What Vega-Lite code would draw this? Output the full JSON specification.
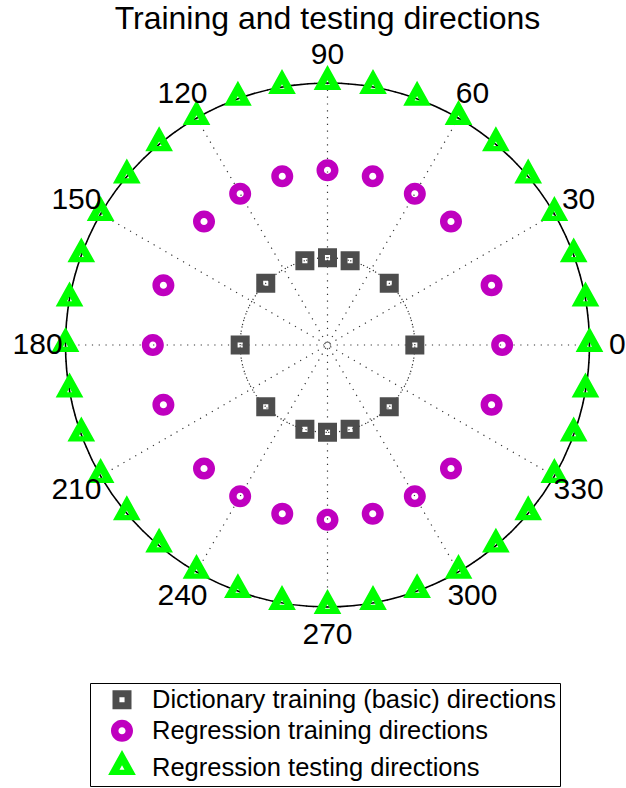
{
  "$schema": "https://vega.github.io/schema/vega-lite/v6.json",
  "width": 597,
  "height": 570,
  "autosize": {"type": "none"},
  "padding": {"left": 29, "top": 60, "right": 0, "bottom": 158},
  "background": "white",
  "title": {
    "text": "Training and testing directions",
    "font": "Liberation Sans",
    "fontSize": 32,
    "fontWeight": "normal",
    "color": "black",
    "anchor": "middle",
    "frame": "group",
    "offset": 4
  },
  "config": {
    "view": {"stroke": null},
    "font": "Liberation Sans"
  },
  "datasets": {
    "rings": [{"r": 1}, {"r": 2}],
    "outer": [{"r": 3}],
    "spokes": [
      {"angle": 0, "x": 3, "y": 0, "x2": -3, "y2": 0},
      {"angle": 30, "x": 2.598, "y": 1.5, "x2": -2.598, "y2": -1.5},
      {"angle": 60, "x": 1.5, "y": 2.598, "x2": -1.5, "y2": -2.598},
      {"angle": 90, "x": 0, "y": 3, "x2": 0, "y2": -3},
      {"angle": 120, "x": -1.5, "y": 2.598, "x2": 1.5, "y2": -2.598},
      {"angle": 150, "x": -2.598, "y": 1.5, "x2": 2.598, "y2": -1.5}
    ],
    "labels": [
      {"label": "0", "x": 3.32, "y": 0},
      {"label": "30", "x": 2.875, "y": 1.66},
      {"label": "60", "x": 1.66, "y": 2.875},
      {"label": "90", "x": 0, "y": 3.32},
      {"label": "120", "x": -1.66, "y": 2.875},
      {"label": "150", "x": -2.875, "y": 1.66},
      {"label": "180", "x": -3.32, "y": 0},
      {"label": "210", "x": -2.875, "y": -1.66},
      {"label": "240", "x": -1.66, "y": -2.875},
      {"label": "270", "x": 0, "y": -3.32},
      {"label": "300", "x": 1.66, "y": -2.875},
      {"label": "330", "x": 2.875, "y": -1.66}
    ],
    "directions": [
      {"set": "Dictionary training (basic) directions", "angle": 0, "x": 1, "y": 0},
      {"set": "Dictionary training (basic) directions", "angle": 45, "x": 0.707, "y": 0.707},
      {"set": "Dictionary training (basic) directions", "angle": 75, "x": 0.259, "y": 0.966},
      {"set": "Dictionary training (basic) directions", "angle": 90, "x": 0, "y": 1},
      {"set": "Dictionary training (basic) directions", "angle": 105, "x": -0.259, "y": 0.966},
      {"set": "Dictionary training (basic) directions", "angle": 135, "x": -0.707, "y": 0.707},
      {"set": "Dictionary training (basic) directions", "angle": 180, "x": -1, "y": 0},
      {"set": "Dictionary training (basic) directions", "angle": 225, "x": -0.707, "y": -0.707},
      {"set": "Dictionary training (basic) directions", "angle": 255, "x": -0.259, "y": -0.966},
      {"set": "Dictionary training (basic) directions", "angle": 270, "x": 0, "y": -1},
      {"set": "Dictionary training (basic) directions", "angle": 285, "x": 0.259, "y": -0.966},
      {"set": "Dictionary training (basic) directions", "angle": 315, "x": 0.707, "y": -0.707},
      {"set": "Regression training directions", "angle": 0, "x": 2, "y": 0},
      {"set": "Regression training directions", "angle": 20, "x": 1.879, "y": 0.684},
      {"set": "Regression training directions", "angle": 45, "x": 1.414, "y": 1.414},
      {"set": "Regression training directions", "angle": 60, "x": 1, "y": 1.732},
      {"set": "Regression training directions", "angle": 75, "x": 0.518, "y": 1.932},
      {"set": "Regression training directions", "angle": 90, "x": 0, "y": 2},
      {"set": "Regression training directions", "angle": 105, "x": -0.518, "y": 1.932},
      {"set": "Regression training directions", "angle": 120, "x": -1, "y": 1.732},
      {"set": "Regression training directions", "angle": 135, "x": -1.414, "y": 1.414},
      {"set": "Regression training directions", "angle": 160, "x": -1.879, "y": 0.684},
      {"set": "Regression training directions", "angle": 180, "x": -2, "y": 0},
      {"set": "Regression training directions", "angle": 200, "x": -1.879, "y": -0.684},
      {"set": "Regression training directions", "angle": 225, "x": -1.414, "y": -1.414},
      {"set": "Regression training directions", "angle": 240, "x": -1, "y": -1.732},
      {"set": "Regression training directions", "angle": 255, "x": -0.518, "y": -1.932},
      {"set": "Regression training directions", "angle": 270, "x": 0, "y": -2},
      {"set": "Regression training directions", "angle": 285, "x": 0.518, "y": -1.932},
      {"set": "Regression training directions", "angle": 300, "x": 1, "y": -1.732},
      {"set": "Regression training directions", "angle": 315, "x": 1.414, "y": -1.414},
      {"set": "Regression training directions", "angle": 340, "x": 1.879, "y": -0.684},
      {"set": "Regression testing directions", "angle": 0, "x": 3, "y": 0},
      {"set": "Regression testing directions", "angle": 10, "x": 2.954, "y": 0.521},
      {"set": "Regression testing directions", "angle": 20, "x": 2.819, "y": 1.026},
      {"set": "Regression testing directions", "angle": 30, "x": 2.598, "y": 1.5},
      {"set": "Regression testing directions", "angle": 40, "x": 2.298, "y": 1.928},
      {"set": "Regression testing directions", "angle": 50, "x": 1.928, "y": 2.298},
      {"set": "Regression testing directions", "angle": 60, "x": 1.5, "y": 2.598},
      {"set": "Regression testing directions", "angle": 70, "x": 1.026, "y": 2.819},
      {"set": "Regression testing directions", "angle": 80, "x": 0.521, "y": 2.954},
      {"set": "Regression testing directions", "angle": 90, "x": 0, "y": 3},
      {"set": "Regression testing directions", "angle": 100, "x": -0.521, "y": 2.954},
      {"set": "Regression testing directions", "angle": 110, "x": -1.026, "y": 2.819},
      {"set": "Regression testing directions", "angle": 120, "x": -1.5, "y": 2.598},
      {"set": "Regression testing directions", "angle": 130, "x": -1.928, "y": 2.298},
      {"set": "Regression testing directions", "angle": 140, "x": -2.298, "y": 1.928},
      {"set": "Regression testing directions", "angle": 150, "x": -2.598, "y": 1.5},
      {"set": "Regression testing directions", "angle": 160, "x": -2.819, "y": 1.026},
      {"set": "Regression testing directions", "angle": 170, "x": -2.954, "y": 0.521},
      {"set": "Regression testing directions", "angle": 180, "x": -3, "y": 0},
      {"set": "Regression testing directions", "angle": 190, "x": -2.954, "y": -0.521},
      {"set": "Regression testing directions", "angle": 200, "x": -2.819, "y": -1.026},
      {"set": "Regression testing directions", "angle": 210, "x": -2.598, "y": -1.5},
      {"set": "Regression testing directions", "angle": 220, "x": -2.298, "y": -1.928},
      {"set": "Regression testing directions", "angle": 230, "x": -1.928, "y": -2.298},
      {"set": "Regression testing directions", "angle": 240, "x": -1.5, "y": -2.598},
      {"set": "Regression testing directions", "angle": 250, "x": -1.026, "y": -2.819},
      {"set": "Regression testing directions", "angle": 260, "x": -0.521, "y": -2.954},
      {"set": "Regression testing directions", "angle": 270, "x": 0, "y": -3},
      {"set": "Regression testing directions", "angle": 280, "x": 0.521, "y": -2.954},
      {"set": "Regression testing directions", "angle": 290, "x": 1.026, "y": -2.819},
      {"set": "Regression testing directions", "angle": 300, "x": 1.5, "y": -2.598},
      {"set": "Regression testing directions", "angle": 310, "x": 1.928, "y": -2.298},
      {"set": "Regression testing directions", "angle": 320, "x": 2.298, "y": -1.928},
      {"set": "Regression testing directions", "angle": 330, "x": 2.598, "y": -1.5},
      {"set": "Regression testing directions", "angle": 340, "x": 2.819, "y": -1.026},
      {"set": "Regression testing directions", "angle": 350, "x": 2.954, "y": -0.521}
    ]
  },
  "layer": [
    {
      "data": {"name": "rings"},
      "mark": {"type": "arc", "theta": 0, "theta2": 6.2832, "filled": false, "stroke": "#333333", "strokeWidth": 1.2, "strokeDash": [1.2, 5.6]},
      "encoding": {
        "radius": {"field": "r", "type": "quantitative", "scale": {"type": "linear", "domain": [0, 3], "range": [0, 262], "zero": true, "nice": false}}
      }
    },
    {
      "data": {"name": "spokes"},
      "mark": {"type": "rule", "stroke": "#333333", "strokeWidth": 1.2, "strokeDash": [1.2, 5.6]},
      "encoding": {
        "x": {"field": "x", "type": "quantitative", "scale": {"domain": [-3.418, 3.418], "nice": false, "zero": false}, "axis": null},
        "y": {"field": "y", "type": "quantitative", "scale": {"domain": [-3.2634, 3.2634], "nice": false, "zero": false}, "axis": null},
        "x2": {"field": "x2"},
        "y2": {"field": "y2"}
      }
    },
    {
      "data": {"name": "outer"},
      "mark": {"type": "arc", "theta": 0, "theta2": 6.2832, "filled": false, "stroke": "black", "strokeWidth": 1.6},
      "encoding": {
        "radius": {"field": "r", "type": "quantitative"}
      }
    },
    {
      "data": {"name": "directions"},
      "mark": {"type": "point", "filled": true, "opacity": 1, "strokeWidth": 0},
      "encoding": {
        "x": {"field": "x", "type": "quantitative"},
        "y": {"field": "y", "type": "quantitative"},
        "color": {
          "field": "set", "type": "nominal", "title": null,
          "scale": {
            "domain": ["Dictionary training (basic) directions", "Regression training directions", "Regression testing directions"],
            "range": ["#4d4d4d", "#bf00bf", "#00ff00"]
          },
          "legend": {
            "orient": "none",
            "legendX": 61,
            "legendY": 623,
            "strokeColor": "black",
            "fillColor": "white",
            "padding": 4,
            "symbolOffset": 14,
            "labelFont": "Liberation Sans",
            "labelFontSize": 25.5,
            "labelColor": "black",
            "labelOffset": 16,
            "labelLimit": 600,
            "rowPadding": 4,
            "symbolStrokeWidth": 0,
            "symbolOpacity": 1
          }
        },
        "shape": {
          "field": "set", "type": "nominal", "title": null,
          "scale": {
            "domain": ["Dictionary training (basic) directions", "Regression training directions", "Regression testing directions"],
            "range": [
              "M-1,-1H1V1H-1Z M-0.27,-0.27V0.27H0.27V-0.27Z",
              "M0.927,0C0.927,0.512,0.512,0.927,0,0.927C-0.512,0.927,-0.927,0.512,-0.927,0C-0.927,-0.512,-0.512,-0.927,0,-0.927C0.512,-0.927,0.927,-0.512,0.927,0Z M0.3,0C0.3,-0.1657,0.1657,-0.3,0,-0.3C-0.1657,-0.3,-0.3,-0.1657,-0.3,0C-0.3,0.1657,-0.1657,0.3,0,0.3C0.1657,0.3,0.3,0.1657,0.3,0Z",
              "M0,-1.3L1,0.5L-1,0.5Z M0,-0.2L-0.18,0.12L0.18,0.12Z"
            ]
          }
        },
        "size": {
          "field": "set", "type": "nominal", "title": null,
          "scale": {
            "type": "point",
            "padding": 0,
            "domain": ["Dictionary training (basic) directions", "Regression training directions", "Regression testing directions"],
            "range": [361, 767]
          }
        }
      }
    },
    {
      "data": {"name": "labels"},
      "mark": {"type": "text", "font": "Liberation Sans", "fontSize": 30, "color": "black", "align": "center", "baseline": "middle"},
      "encoding": {
        "x": {"field": "x", "type": "quantitative"},
        "y": {"field": "y", "type": "quantitative"},
        "text": {"field": "label"}
      }
    }
  ]
}
